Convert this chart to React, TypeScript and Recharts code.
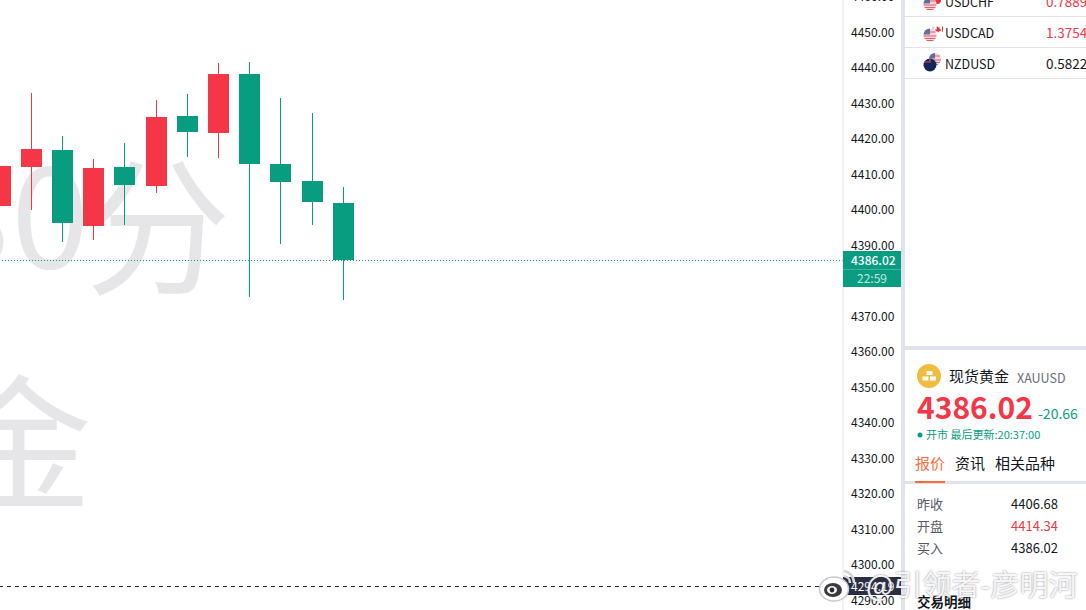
import React from "react";
import { ComposedChart, Bar, XAxis, YAxis, ReferenceLine } from "recharts";

const slots = [0, 1, 2, 3, 4, 5, 6, 7, 8, 9, 10, 11];
const opens = [4401.3, 4412.3, 4417.2, 4395.6, 4412.3, 4406.9, 4426.6, 4421.8, 4438.5, 4413.1, 4408.3, 4402.1];
const closes = [4412.5, 4417.3, 4396.5, 4412.0, 4407.2, 4426.5, 4422.1, 4438.5, 4413.1, 4408.0, 4402.4, 4386.02];
const highs = [4412.5, 4433.1, 4421.0, 4414.5, 4419.0, 4431.1, 4432.8, 4441.7, 4441.8, 4431.7, 4427.5, 4406.6];
const lows = [4401.3, 4400.1, 4391.1, 4391.7, 4395.9, 4404.9, 4415.1, 4415.0, 4375.6, 4390.6, 4395.9, 4374.8];
const priceTicks = [4460, 4450, 4440, 4430, 4420, 4410, 4400, 4390, 4380, 4370, 4360, 4350, 4340, 4330, 4320, 4310, 4300, 4290];
const lastPrice = 4386.02;
const stopPrice = 4294.19;

const quoteRows = [
  { sym: "USDCHF", val: "0.7889", color: "#f43647", y: 1 },
  { sym: "USDCAD", val: "1.3754", color: "#f43647", y: 32 },
  { sym: "NZDUSD", val: "0.5822", color: "#131722", y: 63 },
];
const detailRows = [
  { k: "昨收", v: "4406.68", c: "#131722", y: 503.5 },
  { k: "开盘", v: "4414.34", c: "#f43647", y: 525.5 },
  { k: "买入", v: "4386.02", c: "#131722", y: 547.5 },
];
const tabs = [
  { t: "报价", x: 915, c: "#ff6b3b" },
  { t: "资讯", x: 955, c: "#131722" },
  { t: "相关品种", x: 995, c: "#131722" },
];

const GREEN = "#089c81";
const RED = "#f43647";
const BAND = "#e0e3eb";
const FONT = '"Noto Sans CJK SC", "Noto Sans", sans-serif';

const data = slots.map((i) => ({
  i,
  open: opens[i],
  close: closes[i],
  high: highs[i],
  low: lows[i],
  range: [lows[i], highs[i]],
}));

const Candle = (props: any) => {
  const { x, y, width, height, payload } = props;
  const top = Math.min(y, y + height);
  const h = Math.abs(height);
  const perUnit = h / (payload.high - payload.low);
  const up = payload.close >= payload.open;
  const color = up ? RED : GREEN;
  const bodyHi = Math.max(payload.open, payload.close);
  const bodyLo = Math.min(payload.open, payload.close);
  const by = Math.round(top + (payload.high - bodyHi) * perUnit);
  const bb = Math.round(top + (payload.high - bodyLo) * perUnit);
  const left = Math.round(x);
  return (
    <g>
      <rect x={left + 10} y={Math.round(top)} width={1} height={Math.round(h)} fill={color} />
      <rect x={left} y={by} width={21} height={bb - by} fill={color} />
    </g>
  );
};

const Txt = ({ x, y, c, s, w, right, children, style }: any) => (
  <div
    style={{
      position: "absolute",
      left: right === undefined ? x : undefined,
      right: right,
      top: y,
      transform: "translateY(-50%)",
      color: c,
      fontSize: s,
      fontWeight: w || 400,
      fontFamily: FONT,
      lineHeight: 1.2,
      whiteSpace: "nowrap",
      ...style,
    }}
  >
    {children}
  </div>
);

const Box = ({ x, y, w, h, c }: any) => (
  <div style={{ position: "absolute", left: x, top: y, width: w, height: h, background: c }} />
);

const USFlag = ({ cx, cy, r }: any) => (
  <g>
    <circle cx={cx} cy={cy} r={r} fill="#f7d5d8" />
    <path d={`M${cx - r} ${cy + 1}h${2 * r}M${cx - r + 1} ${cy + 3.5}h${2 * r - 2}M${cx - r + 3} ${cy + 5.5}h${2 * r - 6}`} stroke="#e0606c" strokeWidth={1} />
    <path d={`M${cx - r} ${cy - 0.5}A${r} ${r} 0 0 1 ${cx} ${cy - r}L${cx} ${cy - 0.5}Z`} fill="#5a6fa5" />
    <path d={`M${cx} ${cy - 3}h${r - 1}`} stroke="#e0606c" strokeWidth={1} />
  </g>
);

const Flags = () => (
  <svg width={181} height={80} style={{ position: "absolute", left: 905, top: 0 }}>
    <circle cx={32} cy={0} r={4} fill="#e8303c" />
    <USFlag cx={25} cy={4} r={6.5} />
    <path d="M32 26l1.2 1.6 1.6-.4-.4 2 2 .2-1 1.8h-1.6v1h-1.2v-1h-1.6l-1-1.8 2-.2-.4-2z" fill="#e8303c" />
    <rect x={27.5} y={26.5} width={1} height={5} fill="#f5a0a0" />
    <rect x={37} y={26.5} width={1} height={5} fill="#e8303c" />
    <USFlag cx={25} cy={35} r={6.5} />
    <USFlag cx={30} cy={59} r={6} />
    <circle cx={25} cy={65} r={6.5} fill="#13265c" />
    <path d="M19 62h6v-3" stroke="#d8495a" strokeWidth={1.2} fill="none" />
  </svg>
);

const WeiboLogo = () => (
  <svg width={42} height={42} style={{ position: "absolute", left: 818, top: 564 }}>
    <path d="M26 7a12 12 0 0 1 10 12M26 12a7 7 0 0 1 6 7" stroke="#d5d5d8" strokeWidth={2.5} fill="none" />
    <ellipse cx={16} cy={25} rx={14.5} ry={12} fill="#fff" stroke="#c8c8cc" strokeWidth={1.5} />
    <ellipse cx={15} cy={26} rx={9} ry={7} fill="#3a3a40" />
    <ellipse cx={14} cy={26} rx={5} ry={4} fill="#f5f5f5" />
    <circle cx={14} cy={26} r={2.4} fill="#2a2a30" />
  </svg>
);

const markStyle: any = { position: "absolute", fontFamily: FONT, lineHeight: "200px", color: "#e6e6e8", whiteSpace: "nowrap" };

export default function App() {
  return (
    <div style={{ position: "absolute", left: 0, top: 0, width: 1086, height: 610, overflow: "hidden", background: "#fff" }}>
      {/* background symbol watermark */}
      <div style={{ ...markStyle, right: 1086 - 89, top: 107, fontSize: 140 }}>30</div>
      <div style={{ ...markStyle, right: 1086 - 231, top: 119, fontSize: 148 }}>分</div>
      <div style={{ ...markStyle, left: -54, top: 335, fontSize: 146 }}>金</div>

      <div style={{ position: "absolute", left: 0, top: -20 }}>
        <ComposedChart width={1086} height={630} data={data} margin={{ top: 0, right: 185, bottom: 0, left: 0 }}>
          <XAxis dataKey="i" type="number" hide domain={[-0.3 / 31.18, 842.7 / 31.18]} allowDataOverflow />
          <YAxis
            orientation="right"
            width={58}
            domain={[4450 - 576.63 / 3.55, 4450 + 53.37 / 3.55]}
            allowDataOverflow
            ticks={priceTicks}
            interval={0}
            axisLine={{ stroke: BAND }}
            tickLine={false}
            tickSize={0}
            tickMargin={8}
            tick={{ fontSize: 12, fill: "#131722", fontFamily: FONT, dy: -1 }}
            tickFormatter={(v: number) => v.toFixed(2)}
          />
          <ReferenceLine y={lastPrice} stroke={GREEN} strokeDasharray="1 2" />
          <ReferenceLine y={stopPrice} stroke="#2a2e39" strokeDasharray="4 4" />
          <Bar dataKey="range" barSize={21} shape={<Candle />} isAnimationActive={false} />
        </ComposedChart>
      </div>

      {/* last price tag */}
      <Box x={843} y={251} w={58} h={36} c={GREEN} />
      <Box x={843} y={269} w={58} h={1} c="#3fb49f" />
      <Txt x={851} y={260} c="#fff" s={12} w={500}>{lastPrice.toFixed(2)}</Txt>
      <Txt x={857} y={278} c="#c2ebe0" s={12}>22:59</Txt>

      {/* stop tag */}
      <Box x={843} y={577} w={58} h={18} c="#2a2e42" />
      <Txt x={851} y={586} c="#fff" s={12}>{stopPrice.toFixed(2)}</Txt>

      {/* right panel */}
      <Box x={901} y={0} w={185} h={610} c="#fff" />
      <Box x={901} y={0} w={4} h={610} c={BAND} />
      <Box x={905} y={346} w={181} h={4} c={BAND} />
      {[16, 47, 78].map((y) => (
        <Box key={y} x={905} y={y} w={181} h={1} c={BAND} />
      ))}
      <Flags />
      {quoteRows.map((r) => (
        <React.Fragment key={r.sym}>
          <Txt x={945} y={r.y} c="#131722" s={12.5}>{r.sym}</Txt>
          <Txt x={1046} y={r.y} c={r.color} s={13.5}>{r.val}</Txt>
        </React.Fragment>
      ))}

      <svg width={26} height={26} style={{ position: "absolute", left: 916, top: 363 }}>
        <circle cx={13} cy={13} r={12} fill="#f0bd40" />
        <rect x={10.5} y={8} width={6} height={4} fill="#fff" />
        <rect x={6.5} y={13.5} width={6} height={4} fill="#fff" />
        <rect x={14} y={13.5} width={6} height={4} fill="#fff" />
      </svg>
      <Txt x={949} y={376} c="#131722" s={15}>现货黄金</Txt>
      <Txt x={1017} y={377} c="#6a6d78" s={12.5}>XAUUSD</Txt>
      <Txt x={917} y={406} c={RED} s={30} w={700}>{lastPrice.toFixed(2)}</Txt>
      <Txt x={1038} y={413} c={GREEN} s={14}>-20.66</Txt>
      <svg width={6} height={6} style={{ position: "absolute", left: 917, top: 432 }}>
        <circle cx={3} cy={3} r={2.5} fill={GREEN} />
      </svg>
      <Txt x={926} y={435} c={GREEN} s={11}>开市 最后更新:20:37:00</Txt>

      {tabs.map((t) => (
        <Txt key={t.t} x={t.x} y={463} c={t.c} s={15}>{t.t}</Txt>
      ))}
      <Box x={905} y={481} w={181} h={3} c={BAND} />
      <Box x={915} y={481} w={30} h={2} c="#ff6b3b" />

      {detailRows.map((r) => (
        <React.Fragment key={r.k}>
          <Txt x={917} y={r.y} c="#555a66" s={13}>{r.k}</Txt>
          <Txt right={1086 - 1058} y={r.y} c={r.c} s={13}>{r.v}</Txt>
        </React.Fragment>
      ))}
      <Txt x={917} y={601} c="#131722" s={13.5} w={700}>交易明细</Txt>

      {/* social watermark */}
      <WeiboLogo />
      <Txt x={866} y={583} c="rgba(255,255,255,0.92)" s={29} style={{ textShadow: "0 0 2px rgba(90,90,100,0.75)" }}>@引领者-彦明河</Txt>
    </div>
  );
}
